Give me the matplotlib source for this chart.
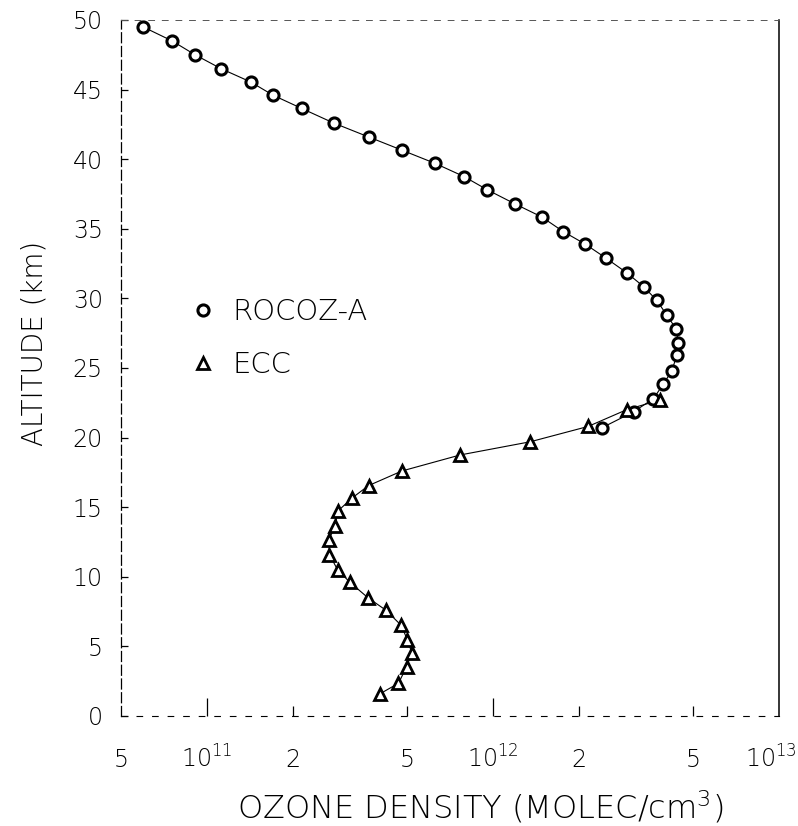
import matplotlib.pyplot as plt
import matplotlib.transforms as mtransforms
import numpy as np

plt.rcParams['font.family'] = ['DejaVu Sans']
plt.rcParams['font.weight'] = 'light'
plt.rcParams['axes.labelweight'] = 'light'
plt.rcParams['mathtext.fontset'] = 'custom'
plt.rcParams['mathtext.rm'] = 'DejaVu Sans:light'
plt.rcParams['mathtext.it'] = 'DejaVu Sans:light'
plt.rcParams['mathtext.default'] = 'rm'

# ROCOZ-A profile (altitude km, density molec/cm3)
rocoz_alt = [49.5, 48.5, 47.5, 46.5, 45.55, 44.6, 43.65, 42.6, 41.6, 40.65, 39.7,
             38.75, 37.8, 36.8, 35.85, 34.8, 33.9, 32.9, 31.85, 30.85, 29.85,
             28.8, 27.8, 26.8, 25.9, 24.8, 23.85, 22.8, 21.85, 20.7]
rocoz_dens = [5.98e10, 7.54e10, 9.08e10, 1.12e11, 1.42e11, 1.70e11, 2.14e11,
              2.77e11, 3.67e11, 4.80e11, 6.27e11, 7.92e11, 9.55e11, 1.19e12,
              1.48e12, 1.76e12, 2.10e12, 2.48e12, 2.93e12, 3.36e12, 3.74e12,
              4.05e12, 4.37e12, 4.45e12, 4.39e12, 4.22e12, 3.94e12, 3.64e12,
              3.10e12, 2.40e12]

# ECC sonde profile
ecc_alt = [22.7, 22.0, 20.8, 19.7, 18.75, 17.6, 16.55, 15.65, 14.7, 13.65, 12.65,
           11.6, 10.5, 9.6, 8.5, 7.6, 6.5, 5.45, 4.55, 3.55, 2.35, 1.6]
ecc_dens = [3.84e12, 2.93e12, 2.15e12, 1.35e12, 7.67e11, 4.80e11, 3.67e11,
            3.21e11, 2.86e11, 2.81e11, 2.66e11, 2.68e11, 2.86e11, 3.16e11,
            3.65e11, 4.22e11, 4.78e11, 5.02e11, 5.20e11, 4.99e11, 4.67e11,
            4.03e11]

xtick_vals = [5e10, 1e11, 2e11, 5e11, 1e12, 2e12, 5e12, 1e13]
xtick_labels = ['5', '$10^{11}$', '2', '5', '$10^{12}$', '2', '5', '$10^{13}$']
ytick_vals = list(range(0, 51, 5))

fig = plt.figure(figsize=(7.98, 8.26), dpi=100)
ax = fig.add_axes([0.1516, 0.1332, 0.8246, 0.8426])

ax.plot(rocoz_dens, rocoz_alt, '-', color='black', lw=0.8)
ax.plot(ecc_dens, ecc_alt, '-', color='black', lw=0.8)
ax.plot(rocoz_dens, rocoz_alt, 'o', ls='none', mfc='white', mec='black',
        mew=2.2, ms=8, label='ROCOZ-A')
ax.plot(ecc_dens, ecc_alt, '^', ls='none', mfc='white', mec='black',
        mew=2.0, ms=8.5, label='ECC')

ax.set_xscale('log')
ax.set_xlim(5e10, 1e13)
ax.set_ylim(0, 50)

ax.set_xticks(xtick_vals)
ax.set_xticklabels(xtick_labels, fontsize=17)
ax.xaxis.set_minor_locator(plt.NullLocator())
ax.tick_params(axis='x', direction='in', length=7, width=0.9, pad=37)
for lbl in ax.get_xticklabels():
    lbl.set_va('baseline')
# nudge the last label so it stays inside the picture
last = ax.get_xticklabels()[-1]
last.set_transform(last.get_transform() +
                   mtransforms.ScaledTranslation(-6 / 72, 0, fig.dpi_scale_trans))
for t, v in zip(ax.xaxis.get_major_ticks(), xtick_vals):
    if v in (1e11, 1e12):
        t.tick1line.set_markersize(13)
    if v in (5e10, 1e13):
        t.tick1line.set_markersize(0)

ax.set_yticks(ytick_vals)
ax.set_yticklabels([str(v) for v in ytick_vals], fontsize=17)
ax.tick_params(axis='y', direction='in', length=5, width=0.9, pad=13)

ax.spines['top'].set_linestyle((0, (6, 8)))
ax.spines['top'].set_linewidth(0.7)
ax.spines['top'].set_color('#555555')
ax.spines['left'].set_linestyle((0, (8, 3)))
ax.spines['left'].set_linewidth(0.9)
ax.spines['bottom'].set_linestyle((0, (5, 9)))
ax.spines['bottom'].set_linewidth(0.8)
ax.spines['right'].set_linewidth(1.1)

ax.set_xlabel('OZONE DENSITY (MOLEC/cm$^{3}$)', fontsize=23, fontweight='light')
ax.xaxis.set_label_coords(0.546, -0.104)
ax.set_ylabel('ALTITUDE (km)', fontsize=20, fontweight='light')
ax.yaxis.set_label_coords(-0.11, 0.535)

ax.legend(loc='upper left', bbox_to_anchor=(0.085, 0.617), frameon=False,
          prop={'size': 21, 'weight': 'light'}, handletextpad=0.5,
          labelspacing=0.85, handlelength=1.0, borderaxespad=0)

fig.savefig('out.png', dpi=100)
